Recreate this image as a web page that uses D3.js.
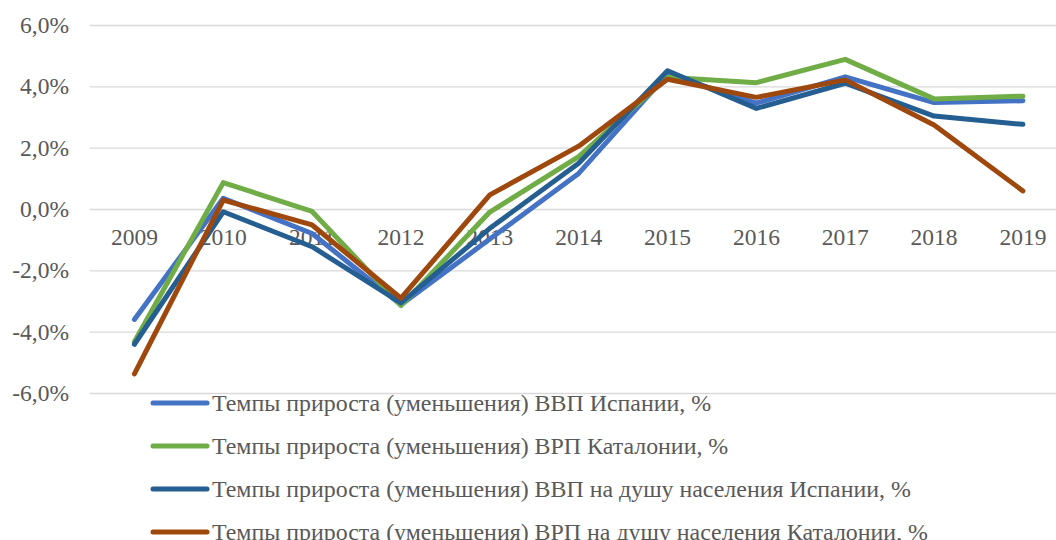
<!DOCTYPE html>
<html>
<head>
<meta charset="utf-8">
<script src="https://cdn.jsdelivr.net/npm/d3@7"></script>
</head>
<body style="margin:0">
<svg id="chart" width="1056" height="540"></svg>
<script>
const years = ["2009","2010","2011","2012","2013","2014","2015","2016","2017","2018","2019"];
const yTicks = [-6, -4, -2, 0, 2, 4, 6];

const gdpSpain        = [-3.60, 0.35, -0.80, -3.12, -0.98, 1.16, 4.40, 3.45, 4.31, 3.47, 3.53];
const grpCatalonia    = [-4.33, 0.86, -0.08, -3.15, -0.10, 1.71, 4.30, 4.12, 4.88, 3.59, 3.68];
const gdpPcSpain      = [-4.41, -0.09, -1.23, -3.06, -0.63, 1.49, 4.51, 3.28, 4.10, 3.03, 2.76];
const grpPcCatalonia  = [-5.38, 0.29, -0.52, -2.91, 0.46, 2.05, 4.23, 3.64, 4.21, 2.74, 0.59];

const seriesNames = [
  "Темпы прироста (уменьшения) ВВП Испании, %",
  "Темпы прироста (уменьшения) ВРП Каталонии, %",
  "Темпы прироста (уменьшения) ВВП на душу населения Испании, %",
  "Темпы прироста (уменьшения) ВРП на душу населения Каталонии, %"
];
const seriesValues = [gdpSpain, grpCatalonia, gdpPcSpain, grpPcCatalonia];
const seriesColors = ["#4472C4", "#70AD47", "#255E91", "#9E480E"];

const FS = 23.5;

function draw() {
  const svg = d3.select("#chart");
  svg.selectAll("*").remove();
  const setFont = (sel, fs) => sel.style("font-family", "'Times New Roman'").attr("font-size", fs || FS).attr("fill", "#595959");

  const x = d3.scaleBand().domain(years).range([90, 90 + 11 * 88.85]);
  const y = d3.scaleLinear().domain([-6, 6]).range([393, 25]);
  const cx = d => x(d) + x.bandwidth() / 2;

  // gridlines + y labels
  const yAxis = d3.axisLeft(y)
    .tickValues(yTicks)
    .tickSize(-(1056 - 90))
    .tickPadding(21)
    .tickFormat(d => d3.format(".1f")(d).replace(".", ",").replace("\u2212", "-") + "%");
  const gy = svg.append("g").attr("transform", "translate(90,0)").call(yAxis);
  gy.attr("font-family", null);
  gy.select(".domain").remove();
  gy.selectAll(".tick line").attr("stroke", "#D9D9D9").attr("stroke-width", 1.3);
  setFont(gy.selectAll(".tick text"));

  // x labels
  const xAxis = d3.axisBottom(x).tickSize(0).tickPadding(19);
  const gx = svg.append("g").attr("transform", `translate(0,${y(0)})`).call(xAxis);
  gx.attr("font-family", null);
  gx.select(".domain").remove();
  setFont(gx.selectAll(".tick text"));

  // lines
  const line = d3.line().x((d, i) => cx(years[i])).y(d => y(d));
  seriesValues.forEach((vals, k) => {
    svg.append("path")
      .datum(vals)
      .attr("d", line)
      .attr("fill", "none")
      .attr("stroke", seriesColors[k])
      .attr("stroke-width", 5)
      .attr("stroke-linecap", "round")
      .attr("stroke-linejoin", "round");
  });

  // legend
  const lg = svg.append("g");
  seriesNames.forEach((name, k) => {
    const yy = 403 + k * 43;
    lg.append("line")
      .attr("x1", 153).attr("x2", 207)
      .attr("y1", yy).attr("y2", yy)
      .attr("stroke", seriesColors[k])
      .attr("stroke-width", 5)
      .attr("stroke-linecap", "round");
    setFont(lg.append("text")
      .attr("x", 212).attr("y", yy)
      .attr("dy", "0.35em")
      .text(name), 23.9);
  });
}

draw();
if (document.fonts && document.fonts.ready) {
  document.fonts.ready.then(draw, draw);
}
window.addEventListener("load", draw);
</script>
</body>
</html>
